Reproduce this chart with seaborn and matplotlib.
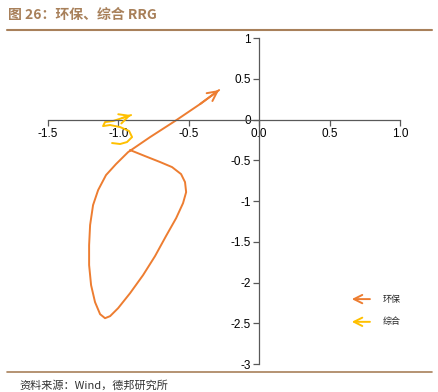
import matplotlib
matplotlib.use("Agg")
import matplotlib.pyplot as plt
import seaborn as sns
import pandas as pd
from matplotlib.lines import Line2D

# RRG trajectory of the 环保 (environmental) sector
env_x = [-0.916, -0.810, -0.703, -0.618, -0.554, -0.526, -0.518, -0.540, -0.589, -0.661,
         -0.739, -0.824, -0.916, -1.001, -1.058, -1.094, -1.129, -1.165, -1.193, -1.207,
         -1.207, -1.200, -1.179, -1.143, -1.087, -1.016, -0.930, -0.774, -0.597, -0.419, -0.284]
env_y = [-0.374, -0.448, -0.521, -0.583, -0.669, -0.767, -0.890, -1.025, -1.209, -1.429,
         -1.675, -1.908, -2.129, -2.313, -2.411, -2.436, -2.387, -2.239, -2.031, -1.785,
         -1.540, -1.294, -1.049, -0.865, -0.681, -0.546, -0.399, -0.215, -0.018, 0.190, 0.362]

# 综合 (conglomerate) trajectory
com_x = [-1.044, -0.987, -0.938, -0.902, -0.923, -0.987, -1.058, -1.108, -1.094, -1.037, -0.973, -0.909]
com_y = [-0.288, -0.300, -0.276, -0.215, -0.141, -0.092, -0.067, -0.080, -0.031, -0.018, 0.018, 0.055]

series_names = ["环保", "综合"]
series_colors = ["#ED7D31", "#FFC000"]

x_ticks = [-1.5, -1.0, -0.5, 0.0, 0.5, 1.0]
y_ticks = [1, 0.5, 0, -0.5, -1, -1.5, -2, -2.5, -3]

sns.set_style("white")
plt.rcParams['font.family'] = ['Liberation Sans', 'Noto Sans CJK SC', 'DejaVu Sans']

fig = plt.figure(figsize=(4.39, 3.92), dpi=100)
ax = fig.add_axes([0.109, 0.071, 0.802, 0.832])

df_env = pd.DataFrame({"x": env_x, "y": env_y})
df_com = pd.DataFrame({"x": com_x, "y": com_y})

for d, c in zip([df_env, df_com], series_colors):
    sns.lineplot(data=d, x="x", y="y", sort=False, estimator=None, color=c, lw=1.4, ax=ax)
    # arrow head at the last point
    ax.annotate("", xy=(d["x"].iloc[-1], d["y"].iloc[-1]),
                xytext=(d["x"].iloc[-2], d["y"].iloc[-2]),
                arrowprops=dict(arrowstyle="->,head_length=0.7,head_width=0.35",
                                color=c, lw=1.4, shrinkA=0, shrinkB=0))

ax.set_xlim(-1.5, 1.0)
ax.set_ylim(-3, 1)
ax.set_xticks(x_ticks)
ax.set_xticklabels([f"{v:.1f}" for v in x_ticks])
ax.set_yticks(y_ticks)
ax.set_yticklabels([f"{v:g}" for v in y_ticks])
ax.set_xlabel("")
ax.set_ylabel("")

for s in ["top", "right"]:
    ax.spines[s].set_visible(False)
ax.spines["left"].set_position(("data", 0))
ax.spines["bottom"].set_position(("data", 0))
for s in ["left", "bottom"]:
    ax.spines[s].set_color("#595959")
    ax.spines[s].set_linewidth(0.9)
ax.tick_params(axis="both", colors="#595959", labelcolor="black", labelsize=8.5,
               length=4, width=0.9, direction="out")
ax.tick_params(axis="x", bottom=True, pad=2)
ax.tick_params(axis="y", left=True, pad=2)

# legend with arrows
for i, (name, c) in enumerate(zip(series_names, series_colors)):
    yy = 0.237 - i * 0.058
    fig.add_artist(matplotlib.patches.FancyArrowPatch(
        (0.849, yy), (0.795, yy), transform=fig.transFigure,
        arrowstyle="->,head_length=0.6,head_width=0.3", color=c, lw=1.4,
        mutation_scale=10))
    fig.text(0.872, yy, name, fontsize=6.5, va="center", ha="left",
             family=['Noto Sans CJK SC'])

brown = "#A8805A"
fig.text(0.018, 0.963, "图 26：环保、综合 RRG", fontsize=10, fontweight="bold",
         color=brown, va="center", ha="left", family=['Noto Sans CJK SC', 'DejaVu Sans'])
fig.add_artist(Line2D([0.016, 0.984], [0.924, 0.924], color=brown, lw=1.5,
                      transform=fig.transFigure))
fig.add_artist(Line2D([0.016, 0.984], [0.051, 0.051], color=brown, lw=1.2,
                      transform=fig.transFigure))
fig.text(0.045, 0.017, "资料来源：Wind，德邦研究所", fontsize=8, color="#333333",
         va="center", ha="left", family=['Noto Sans CJK SC', 'DejaVu Sans'])

fig.savefig("out.png", dpi=100)
